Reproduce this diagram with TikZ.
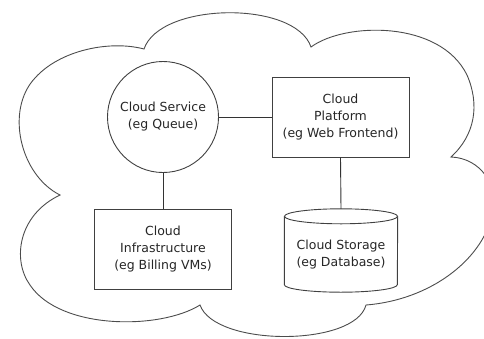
\documentclass[tikz,border=0pt]{standalone}
\usepackage{fontspec}
\setmainfont{DejaVu Sans}
\usepackage{xcolor}

\tikzset{
  label text/.style={font=\fontsize{12.5}{17}\selectfont, text=black!85, align=center},
  box/.style={label text, draw=black!75, line width=0.9pt, rectangle, minimum width=137pt, minimum height=80pt, inner sep=0pt},
  svc/.style={label text, draw=black!75, line width=0.9pt, circle, minimum size=111pt, inner sep=0pt},
  store/.style={label text, rectangle, minimum width=113pt, minimum height=75.5pt, inner sep=0pt},
  drum/.style={draw=black!75, line width=0.9pt},
  link/.style={draw=black!80, line width=0.9pt},
  cloudline/.style={draw=black!70, line width=0.9pt}
}

\begin{document}
\begin{tikzpicture}[x=1pt,y=1pt,yscale=-1,xscale=1]
    \useasboundingbox (0,0) rectangle (484,338);

    %Shape: Cloud
    \draw [cloudline] (144,49) .. controls (160,2) and (295,0) .. (311,47)
      .. controls (345,22) and (440,20) .. (467,75)
      .. controls (480,105) and (475,135) .. (451,157)
      .. controls (480,158) and (500,185) .. (492,215)
      .. controls (482,260) and (430,300) .. (366,305)
      .. controls (355,347) and (215,347) .. (200,305)
      .. controls (160,330) and (60,330) .. (30,285)
      .. controls (12,260) and (18,215) .. (60,195)
      .. controls (20,175) and (5,110) .. (35,78)
      .. controls (60,50) and (110,40) .. (144,49) -- cycle;

    % Text Node
    \node [svc] (service) at (163,117) {Cloud Service\\(eg Queue)};
    % Text Node
    \node [box] (platform) at (340.5,117) {Cloud\\Platform\\(eg Web Frontend)};
    % Text Node
    \node [box] (infra) at (163,249) {Cloud\\Infrastructure\\(eg Billing VMs)};
    % Text Node
    \node [store] (storage) at (341,254.25) {Cloud Storage\\(eg Database)};

    %Shape: Can
    \draw [drum] (storage.north) ellipse [x radius=56.5, y radius=7.5];
    \draw [drum] (storage.north west) -- ([yshift=-7.5pt]storage.south west)
      arc [start angle=180, end angle=0, x radius=56.5, y radius=7.5]
      -- (storage.north east);
    \coordinate (storage top) at ([yshift=-7.5pt]storage.north);

    %Straight Lines
    \draw [link] (service.east) -- (platform.west);
    \draw [link] (service.south) -- (infra.north);
    \draw [link] (platform.south) -- (storage top);

\end{tikzpicture}
\end{document}
